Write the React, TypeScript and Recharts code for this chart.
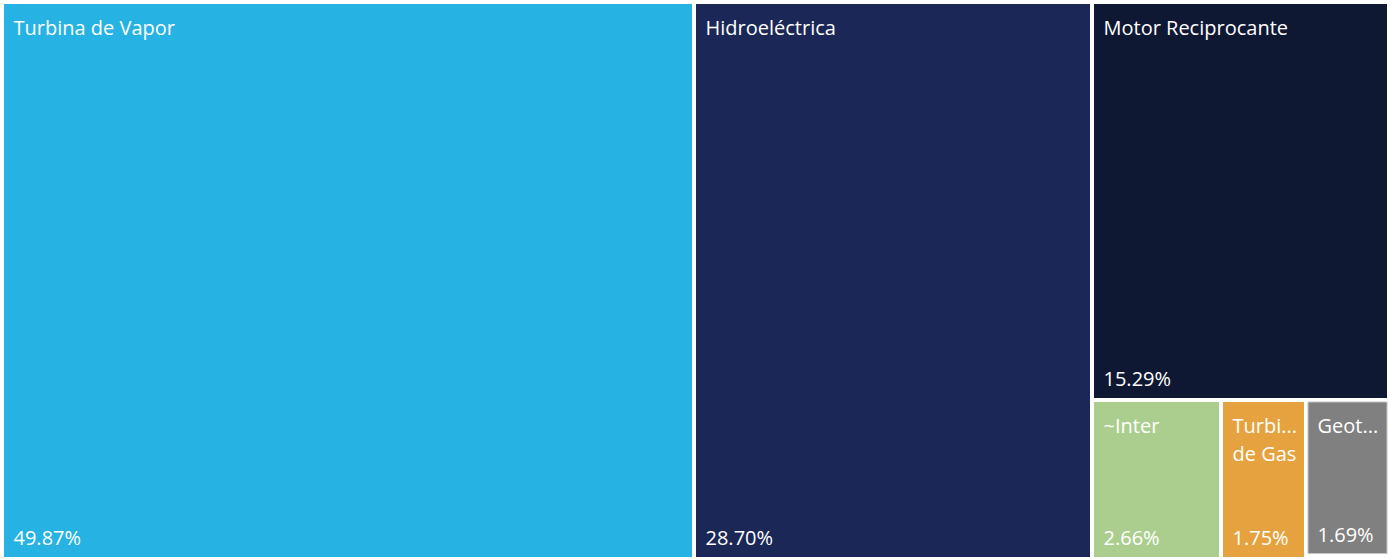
import React from 'react';
import { Treemap } from 'recharts';

const categories = ['Turbina de Vapor', 'Hidroeléctrica', 'Motor Reciprocante', '~Inter', 'Turbina de Gas', 'Geotérmica'];
const shares = [49.87, 28.70, 15.29, 2.66, 1.75, 1.69];
const displayLabels: string[][] = [
  ['Turbina de Vapor'],
  ['Hidroeléctrica'],
  ['Motor Reciprocante'],
  ['~Inter'],
  ['Turbi...', 'de Gas'],
  ['Geot...'],
];
const colors = ['#26B2E2', '#1B2756', '#0F1833', '#ABCE8F', '#E6A23E', '#808080'];
const highlightedIndex = 5;

const data = categories.map((name, i) => ({
  name,
  size: shares[i],
  idx: i,
}));

const FONT = '"Open Sans", "Noto Sans", sans-serif';

const Cell = (props: any) => {
  const { x, y, width, height, depth, idx, size } = props;
  if (depth !== 1 || idx === undefined) return null;
  const gap = 2;
  const hl = idx === highlightedIndex;
  const rx = x + gap;
  const ry = y + gap;
  const rw = Math.max(0, width - gap * 2);
  const rh = Math.max(0, height - gap * 2 - (hl ? 3.5 : 0));
  const lines = displayLabels[idx] || [];
  return (
    <g>
      <rect
        x={rx}
        y={ry}
        width={rw}
        height={rh}
        fill={colors[idx]}
        stroke={hl ? '#C4C4C4' : 'none'}
        strokeWidth={hl ? 1 : 0}
      />
      {lines.map((ln, k) => (
        <text
          key={k}
          x={rx + 9.5}
          y={ry + 31 + k * 28}
          fill="#FFFFFF"
          fontFamily={FONT}
          fontSize={20}
          fontWeight={400}
        >
          {ln}
        </text>
      ))}
      <text x={rx + 9.5} y={ry + rh - 12} fill="#FFFFFF" fontFamily={FONT} fontSize={20} fontWeight={400}>
        {Number(size).toFixed(2)}%
      </text>
    </g>
  );
};

export default function App() {
  return (
    <div style={{ position: 'fixed', left: 0, top: 0, width: 1390, height: 559, background: '#FFFFFF' }}>
      <div style={{ position: 'absolute', left: 2, top: 2 }}>
        <Treemap
          width={1387}
          height={557}
          data={data}
          dataKey="size"
          nameKey="name"
          aspectRatio={1}
          isAnimationActive={false}
          content={<Cell />}
        />
      </div>
    </div>
  );
}
